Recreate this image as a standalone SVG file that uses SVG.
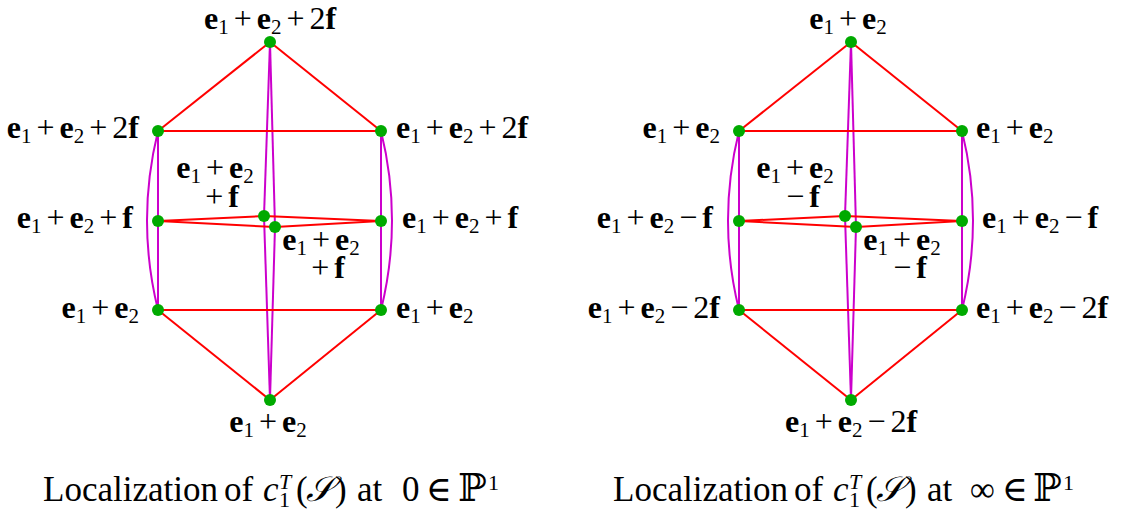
<svg xmlns="http://www.w3.org/2000/svg" width="1122" height="514" viewBox="0 0 1122 514">
<style>
.t{font-family:"Liberation Serif","Times New Roman",Times,"DejaVu Serif","Noto Serif",serif;font-size:32px;fill:#000}
.b{font-weight:bold}
.s{font-size:21px}
.o{font-size:32px}
.cap{font-family:"Liberation Serif","Times New Roman",Times,"DejaVu Serif","Noto Serif",serif;font-size:35px;fill:#000}
.red{stroke:#ff0000;stroke-width:2;fill:none}
.mag{stroke:#cc00cc;stroke-width:2;fill:none}
.nd{fill:#00aa00}
</style>
<rect width="1122" height="514" fill="#fff"/>
<defs>
<g id="edges">
<line class="mag" x1="270" y1="42" x2="264" y2="216"/>
<line class="mag" x1="270" y1="42" x2="275" y2="227"/>
<line class="mag" x1="264" y1="216" x2="270" y2="400"/>
<line class="mag" x1="275" y1="227" x2="270" y2="400"/>
<line class="mag" x1="158" y1="131" x2="158" y2="221"/>
<line class="mag" x1="158" y1="221" x2="158" y2="310"/>
<path class="mag" d="M158,131 Q136,220.5 158,310"/>
<line class="mag" x1="381" y1="131" x2="381" y2="221"/>
<line class="mag" x1="381" y1="221" x2="381" y2="310"/>
<path class="mag" d="M381,131 Q403,220.5 381,310"/>
<line class="red" x1="270" y1="42" x2="158" y2="131"/>
<line class="red" x1="270" y1="42" x2="381" y2="131"/>
<line class="red" x1="158" y1="131" x2="381" y2="131"/>
<line class="red" x1="158" y1="221" x2="264" y2="216"/>
<line class="red" x1="158" y1="221" x2="275" y2="227"/>
<line class="red" x1="381" y1="221" x2="264" y2="216"/>
<line class="red" x1="381" y1="221" x2="275" y2="227"/>
<line class="red" x1="158" y1="310" x2="381" y2="310"/>
<line class="red" x1="158" y1="310" x2="270" y2="400"/>
<line class="red" x1="381" y1="310" x2="270" y2="400"/>
</g>
</defs>

<g id="connectors">
<use href="#edges"/>
<use href="#edges" transform="translate(581,0)"/>
</g>

<!-- Left graph -->
<g id="L-top"><circle class="nd" cx="270" cy="42" r="6"/>
<text class="t" x="270" y="29" text-anchor="middle"><tspan class="b">e</tspan><tspan class="s" dy="5">1</tspan><tspan class="o" dx="5" dy="-5">+</tspan><tspan class="b" dx="5">e</tspan><tspan class="s" dy="5">2</tspan><tspan class="o" dx="5" dy="-5">+</tspan><tspan dx="5">2</tspan><tspan class="b">f</tspan></text></g>
<g id="L-lt"><circle class="nd" cx="158" cy="131" r="6"/>
<text class="t" x="139" y="138" text-anchor="end"><tspan class="b">e</tspan><tspan class="s" dy="5">1</tspan><tspan class="o" dx="5" dy="-5">+</tspan><tspan class="b" dx="5">e</tspan><tspan class="s" dy="5">2</tspan><tspan class="o" dx="5" dy="-5">+</tspan><tspan dx="5">2</tspan><tspan class="b">f</tspan></text></g>
<g id="L-rt"><circle class="nd" cx="381" cy="131" r="6"/>
<text class="t" x="396" y="138"><tspan class="b">e</tspan><tspan class="s" dy="5">1</tspan><tspan class="o" dx="5" dy="-5">+</tspan><tspan class="b" dx="5">e</tspan><tspan class="s" dy="5">2</tspan><tspan class="o" dx="5" dy="-5">+</tspan><tspan dx="5">2</tspan><tspan class="b">f</tspan></text></g>
<g id="L-lm"><circle class="nd" cx="158" cy="221" r="6"/>
<text class="t" x="133" y="228" text-anchor="end"><tspan class="b">e</tspan><tspan class="s" dy="5">1</tspan><tspan class="o" dx="5" dy="-5">+</tspan><tspan class="b" dx="5">e</tspan><tspan class="s" dy="5">2</tspan><tspan class="o" dx="5" dy="-5">+</tspan><tspan class="b" dx="5">f</tspan></text></g>
<g id="L-rm"><circle class="nd" cx="381" cy="221" r="6"/>
<text class="t" x="402" y="228"><tspan class="b">e</tspan><tspan class="s" dy="5">1</tspan><tspan class="o" dx="5" dy="-5">+</tspan><tspan class="b" dx="5">e</tspan><tspan class="s" dy="5">2</tspan><tspan class="o" dx="5" dy="-5">+</tspan><tspan class="b" dx="5">f</tspan></text></g>
<g id="L-c1"><circle class="nd" cx="264" cy="216" r="6"/>
<text class="t" x="215" y="178" text-anchor="middle"><tspan class="b">e</tspan><tspan class="s" dy="5">1</tspan><tspan class="o" dx="5" dy="-5">+</tspan><tspan class="b" dx="5">e</tspan><tspan class="s" dy="5">2</tspan></text>
<text class="t" x="222" y="207" text-anchor="middle"><tspan class="o">+</tspan><tspan class="b" dx="5">f</tspan></text></g>
<g id="L-c2"><circle class="nd" cx="275" cy="227" r="6"/>
<text class="t" x="321" y="250" text-anchor="middle"><tspan class="b">e</tspan><tspan class="s" dy="5">1</tspan><tspan class="o" dx="5" dy="-5">+</tspan><tspan class="b" dx="5">e</tspan><tspan class="s" dy="5">2</tspan></text>
<text class="t" x="328" y="278" text-anchor="middle"><tspan class="o">+</tspan><tspan class="b" dx="5">f</tspan></text></g>
<g id="L-lb"><circle class="nd" cx="158" cy="310" r="6"/>
<text class="t" x="139" y="318" text-anchor="end"><tspan class="b">e</tspan><tspan class="s" dy="5">1</tspan><tspan class="o" dx="5" dy="-5">+</tspan><tspan class="b" dx="5">e</tspan><tspan class="s" dy="5">2</tspan></text></g>
<g id="L-rb"><circle class="nd" cx="381" cy="310" r="6"/>
<text class="t" x="396" y="318"><tspan class="b">e</tspan><tspan class="s" dy="5">1</tspan><tspan class="o" dx="5" dy="-5">+</tspan><tspan class="b" dx="5">e</tspan><tspan class="s" dy="5">2</tspan></text></g>
<g id="L-bot"><circle class="nd" cx="270" cy="400" r="6"/>
<text class="t" x="268" y="432" text-anchor="middle"><tspan class="b">e</tspan><tspan class="s" dy="5">1</tspan><tspan class="o" dx="5" dy="-5">+</tspan><tspan class="b" dx="5">e</tspan><tspan class="s" dy="5">2</tspan></text></g>

<!-- Right graph -->
<g transform="translate(581,0)">
<g id="R-top"><circle class="nd" cx="270" cy="42" r="6"/>
<text class="t" x="267" y="29" text-anchor="middle"><tspan class="b">e</tspan><tspan class="s" dy="5">1</tspan><tspan class="o" dx="5" dy="-5">+</tspan><tspan class="b" dx="5">e</tspan><tspan class="s" dy="5">2</tspan></text></g>
<g id="R-lt"><circle class="nd" cx="158" cy="131" r="6"/>
<text class="t" x="139" y="138" text-anchor="end"><tspan class="b">e</tspan><tspan class="s" dy="5">1</tspan><tspan class="o" dx="5" dy="-5">+</tspan><tspan class="b" dx="5">e</tspan><tspan class="s" dy="5">2</tspan></text></g>
<g id="R-rt"><circle class="nd" cx="381" cy="131" r="6"/>
<text class="t" x="395" y="138"><tspan class="b">e</tspan><tspan class="s" dy="5">1</tspan><tspan class="o" dx="5" dy="-5">+</tspan><tspan class="b" dx="5">e</tspan><tspan class="s" dy="5">2</tspan></text></g>
<g id="R-lm"><circle class="nd" cx="158" cy="221" r="6"/>
<text class="t" x="132" y="228" text-anchor="end"><tspan class="b">e</tspan><tspan class="s" dy="5">1</tspan><tspan class="o" dx="5" dy="-5">+</tspan><tspan class="b" dx="5">e</tspan><tspan class="s" dy="5">2</tspan><tspan class="o" dx="5" dy="-5">−</tspan><tspan class="b" dx="5">f</tspan></text></g>
<g id="R-rm"><circle class="nd" cx="381" cy="221" r="6"/>
<text class="t" x="401" y="228"><tspan class="b">e</tspan><tspan class="s" dy="5">1</tspan><tspan class="o" dx="5" dy="-5">+</tspan><tspan class="b" dx="5">e</tspan><tspan class="s" dy="5">2</tspan><tspan class="o" dx="5" dy="-5">−</tspan><tspan class="b" dx="5">f</tspan></text></g>
<g id="R-c1"><circle class="nd" cx="264" cy="216" r="6"/>
<text class="t" x="214" y="178" text-anchor="middle"><tspan class="b">e</tspan><tspan class="s" dy="5">1</tspan><tspan class="o" dx="5" dy="-5">+</tspan><tspan class="b" dx="5">e</tspan><tspan class="s" dy="5">2</tspan></text>
<text class="t" x="222" y="207" text-anchor="middle"><tspan class="o">−</tspan><tspan class="b" dx="5">f</tspan></text></g>
<g id="R-c2"><circle class="nd" cx="275" cy="227" r="6"/>
<text class="t" x="321" y="250" text-anchor="middle"><tspan class="b">e</tspan><tspan class="s" dy="5">1</tspan><tspan class="o" dx="5" dy="-5">+</tspan><tspan class="b" dx="5">e</tspan><tspan class="s" dy="5">2</tspan></text>
<text class="t" x="329" y="278" text-anchor="middle"><tspan class="o">−</tspan><tspan class="b" dx="5">f</tspan></text></g>
<g id="R-lb"><circle class="nd" cx="158" cy="310" r="6"/>
<text class="t" x="139" y="318" text-anchor="end"><tspan class="b">e</tspan><tspan class="s" dy="5">1</tspan><tspan class="o" dx="5" dy="-5">+</tspan><tspan class="b" dx="5">e</tspan><tspan class="s" dy="5">2</tspan><tspan class="o" dx="5" dy="-5">−</tspan><tspan dx="5">2</tspan><tspan class="b">f</tspan></text></g>
<g id="R-rb"><circle class="nd" cx="381" cy="310" r="6"/>
<text class="t" x="395" y="318"><tspan class="b">e</tspan><tspan class="s" dy="5">1</tspan><tspan class="o" dx="5" dy="-5">+</tspan><tspan class="b" dx="5">e</tspan><tspan class="s" dy="5">2</tspan><tspan class="o" dx="5" dy="-5">−</tspan><tspan dx="5">2</tspan><tspan class="b">f</tspan></text></g>
<g id="R-bot"><circle class="nd" cx="270" cy="400" r="6"/>
<text class="t" x="270" y="432" text-anchor="middle"><tspan class="b">e</tspan><tspan class="s" dy="5">1</tspan><tspan class="o" dx="5" dy="-5">+</tspan><tspan class="b" dx="5">e</tspan><tspan class="s" dy="5">2</tspan><tspan class="o" dx="5" dy="-5">−</tspan><tspan dx="5">2</tspan><tspan class="b">f</tspan></text></g>
</g>

<!-- Captions -->
<g id="caption-left">
<text class="cap" y="501"><tspan x="43">Localization</tspan><tspan x="224">of</tspan><tspan x="263" font-style="italic">c</tspan><tspan x="279" y="489" font-size="22" font-style="italic">T</tspan><tspan x="279" y="507" font-size="22">1</tspan><tspan x="296" y="501">(</tspan><tspan x="306" font-style="italic">𝒮</tspan><tspan x="335">)</tspan><tspan x="357">at</tspan><tspan x="402">0</tspan><tspan x="426">∈</tspan><tspan x="458" font-size="38">ℙ</tspan><tspan x="488" y="490" font-size="22">1</tspan></text>
</g>
<g id="caption-right">
<text class="cap" y="501"><tspan x="613">Localization</tspan><tspan x="794">of</tspan><tspan x="833" font-style="italic">c</tspan><tspan x="849" y="489" font-size="22" font-style="italic">T</tspan><tspan x="849" y="507" font-size="22">1</tspan><tspan x="866" y="501">(</tspan><tspan x="876" font-style="italic">𝒮</tspan><tspan x="905">)</tspan><tspan x="927">at</tspan><tspan x="970">∞</tspan><tspan x="1002">∈</tspan><tspan x="1033" font-size="38">ℙ</tspan><tspan x="1063" y="490" font-size="22">1</tspan></text>
</g>
</svg>
